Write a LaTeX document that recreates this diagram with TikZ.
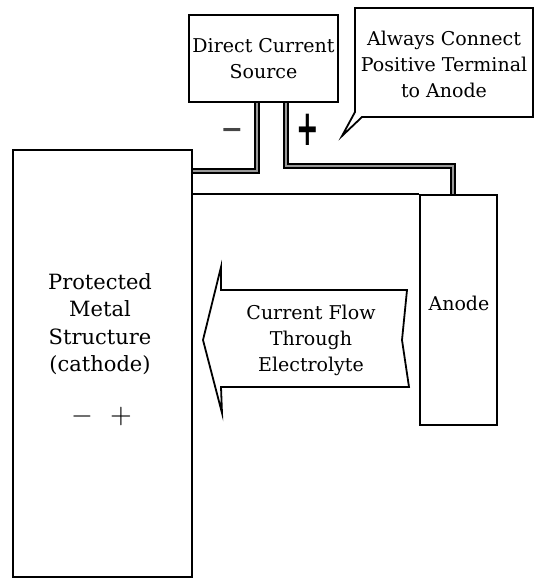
\documentclass[tikz,border=0pt]{standalone}
\usepackage{fontspec}
\setmainfont{DejaVu Serif}
\newfontfamily\signfont{DejaVu Sans}[BoldFont={DejaVu Sans Bold}]
\begin{document}
\begin{tikzpicture}[x=1pt,y=-1pt,
  box/.style={draw, line width=1.6pt, inner sep=0pt, align=center},
  txt/.style={align=center, font=\fontsize{19}{26}\selectfont},
  bigtxt/.style={align=center, font=\fontsize{21}{27.5}\selectfont},
  shapeline/.style={draw, line width=1.8pt, line join=miter},
  wire/.style={line width=2.2pt, draw=gray!80, preaction={draw=black, line width=5.4pt}},
  wiresign/.style={font=\signfont\bfseries\fontsize{27}{27}\selectfont, inner sep=0pt},
]
\useasboundingbox (0,0) rectangle (539,578);

% boxes
\node[box, minimum width=149pt, minimum height=87pt, txt] (dc) at (263.5,58.5) {Direct Current\\Source};
\node[box, line width=1.4pt, minimum width=179pt, minimum height=427pt] (cathode) at (102.5,363.5) {};
\node[box, minimum width=77pt, minimum height=230pt] (anode) at (458.5,310) {};
\node[txt] (anodelabel) at (459,303) {Anode};
\node[bigtxt] (ctext) at (100,324) {Protected\\Metal\\Structure\\(cathode)};
\node (cminus) at (82,416) {\scalebox{2.8}{$-$}};
\node (cplus) at (121,416) {\scalebox{2.8}{$+$}};

% callout
\path[shapeline] (355,8) -- (533,8) -- (533,117) -- (362,117) -- (342,136) -- (355,112) -- cycle;
\node[txt] (callout) at (444,64) {Always Connect\\Positive Terminal\\to Anode};

% current flow arrow
\path[shapeline] (407,290) -- (221,290) -- (221,267) -- (203,340) -- (222,413) -- (221,387)
   -- (409,387) -- (402,340) -- cycle;
\node[txt] (flow) at (311,340) {Current Flow\\Through\\Electrolyte};

% wires
\coordinate (nx) at (257,171);
\coordinate (px) at (286,166);
\coordinate (ax) at (453,166);
\draw[wire] (dc.south -| nx) |- (cathode.east |- nx);
\draw[wire] (dc.south -| px) |- (ax) -- (ax |- anode.north);

% electrolyte surface line
\draw[line width=1.6pt] (cathode.east |- anode.north) -- (anode.north west);

% terminal signs
\node[wiresign, text=gray!55!black] (wminus) at (232,133) {−};
\node[wiresign] (wplus) at (308,130) {\scalebox{1}[1.85]{+}};
\end{tikzpicture}
\end{document}
